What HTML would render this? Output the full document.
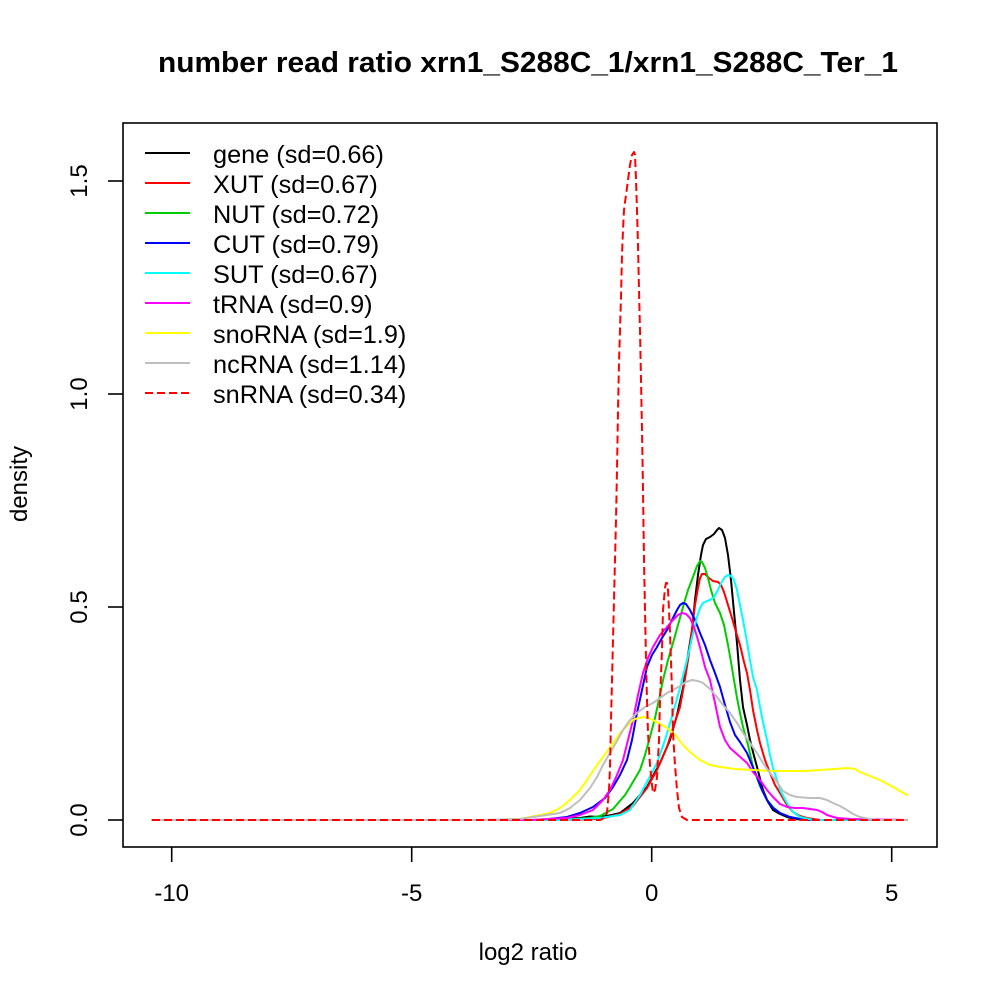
<!DOCTYPE html>
<html>
<head>
<meta charset="utf-8">
<style>
  html, body { margin:0; padding:0; background:#fff; }
  svg { display:block; }
  text { font-family: "Liberation Sans", "DejaVu Sans", sans-serif; fill:#000; }
</style>
</head>
<body>
<svg width="1000" height="1000" viewBox="0 0 1000 1000" xmlns="http://www.w3.org/2000/svg">
  <rect x="0" y="0" width="1000" height="1000" fill="#fff"/>

  <!-- Title -->
  <text x="528" y="72" font-size="28.8" font-weight="bold" text-anchor="middle" textLength="740" lengthAdjust="spacingAndGlyphs">number read ratio xrn1_S288C_1/xrn1_S288C_Ter_1</text>

  <!-- Curves -->
  <g fill="none" stroke-width="2" stroke-linejoin="round" stroke-linecap="round">
    <!-- gene -->
    <polyline stroke="#000000" points="152,820 540,820 560,819 580,818 590,816.5 600,817 612,815 620,813 633,803 647,787 660,763 670,740 677,715 683,688 688,655 692,630 695,600 698,575 701,555 703,545 706,539 710,537 714,534 717,530 719,528 722,530 725,538 728,555 731,580 734,612 737,643 740,680 743,707 747,725 750,740 753,752 757,767 763,790 768,802 773,810 780,814 787,817 795,819 805,820 907,820"/>
    <!-- XUT -->
    <polyline stroke="#FF0000" points="152,820 560,820 600,819 620,814 633,806 647,788 657,770 667,747 674,725 680,707 684,685 688,660 692,630 695,605 698,588 700,578 702,574 705,574 709,578 713,581 718,582 721,585 724,592 728,605 732,618 736,632 740,645 744,662 747,673 750,690 753,710 757,730 760,743 765,760 770,773 775,785 780,793 787,805 793,812 800,816 807,818 820,820 907,820"/>
    <!-- NUT -->
    <polyline stroke="#00CD00" points="152,820 560,820 590,818 600,816 613,809 625,795 630,787 640,770 645,755 650,737 655,718 660,695 663,680 668,660 673,643 678,625 683,607 688,590 693,577 697,566 700,561 702,562 705,568 708,578 711,590 715,603 720,613 724,625 728,645 731,662 734,680 737,698 740,713 743,727 748,745 753,767 760,786 767,800 774,808 780,813 790,817 800,819 815,820 907,820"/>
    <!-- CUT -->
    <polyline stroke="#0000FF" points="152,820 540,820 567,817 580,813 593,807 605,798 613,787 620,775 627,760 632,740 637,713 642,690 647,667 652,655 657,647 662,638 667,630 672,620 677,610 680,605 683,603 686,604 690,610 695,620 700,633 705,645 710,660 715,673 720,687 725,705 730,722 735,735 740,742 747,753 752,765 757,777 762,790 767,800 773,808 780,813 790,817 800,819 815,820 907,820"/>
    <!-- SUT -->
    <polyline stroke="#00FFFF" points="152,820 560,820 600,818 620,815 630,810 640,795 648,780 657,763 665,740 673,713 680,688 687,660 692,638 697,617 700,608 703,603 707,601 710,600 714,597 718,590 721,583 725,577 728,575 731,576 734,580 737,590 740,605 743,620 747,642 750,660 753,677 757,690 760,707 763,722 767,740 770,755 773,768 777,780 780,790 787,803 793,812 800,817 813,820 907,820"/>
    <!-- tRNA -->
    <polyline stroke="#FF00FF" points="152,820 530,820 567,818 580,815 593,810 603,800 610,790 617,775 623,760 628,740 633,720 638,695 643,673 648,658 653,647 660,635 667,627 673,620 678,615 682,613 686,614 690,618 694,627 698,640 702,655 705,667 710,680 715,703 720,727 725,740 730,748 738,755 747,763 753,772 760,780 767,790 773,797 780,804 787,807 795,808 803,808 810,809 817,810 822,812 827,815 837,818 850,819 907,820"/>
    <!-- snoRNA -->
    <polyline stroke="#FFFF00" points="152,820 490,820 520,819 550,813 560,808 570,800 580,790 587,780 595,768 603,757 612,745 620,733 627,726 633,720 638,718 643,717 648,718 653,720 660,724 667,728 673,733 677,737 683,745 690,752 700,760 710,765 720,767 735,769 753,770 770,771 787,771 805,771 820,770 835,769 847,768 855,769 860,772 870,776 880,780 893,787 907,795"/>
    <!-- ncRNA -->
    <polyline stroke="#BEBEBE" points="152,820 480,820 520,819 560,813 570,808 580,800 590,788 597,777 603,765 610,753 617,741 623,730 630,720 637,713 645,707 653,703 660,698 667,693 673,690 680,686 686,682 692,680 698,681 703,683 710,689 717,697 723,705 730,713 737,723 743,733 750,743 757,753 763,763 770,773 777,782 783,791 790,795 797,797 810,798 820,798 827,800 833,803 840,806 847,810 853,814 860,817 870,819 877,820 907,820"/>
    <!-- snRNA -->
    <polyline stroke="#FF0000" stroke-dasharray="8,4" stroke-linecap="butt" points="152,820 600,820 604,818 607,813 609,790 610,767 611,720 612,680 613,640 614,600 615,560 616,520 617,470 618,410 619,363 620,330 621,297 622,255 623,230 624,210 626,195 628,180 630,165 632,155 634,152 635,155 636,180 637,210 638,245 639,290 640,330 641,380 642,430 643,490 644,560 645,610 646,660 647,700 648,733 650,765 652,785 653,793 655,790 657,777 659,740 660,700 662,650 663,610 665,588 666,583 667,583 668,590 669,610 670,633 672,690 673,733 675,765 677,790 679,808 682,817 687,820 907,820"/>
  </g>

  <!-- Plot box -->
  <rect x="123" y="123" width="814" height="724" fill="none" stroke="#000" stroke-width="1.6"/>

  <!-- X axis ticks -->
  <g stroke="#000" stroke-width="1.6">
    <line x1="171.7" y1="847" x2="171.7" y2="862"/>
    <line x1="411.7" y1="847" x2="411.7" y2="862"/>
    <line x1="651.7" y1="847" x2="651.7" y2="862"/>
    <line x1="891.7" y1="847" x2="891.7" y2="862"/>
  </g>
  <g font-size="24" text-anchor="middle">
    <text x="171.7" y="901">-10</text>
    <text x="411.7" y="901">-5</text>
    <text x="651.7" y="901">0</text>
    <text x="891.7" y="901">5</text>
  </g>

  <!-- Y axis ticks -->
  <g stroke="#000" stroke-width="1.6">
    <line x1="108" y1="820" x2="123" y2="820"/>
    <line x1="108" y1="607" x2="123" y2="607"/>
    <line x1="108" y1="394" x2="123" y2="394"/>
    <line x1="108" y1="181" x2="123" y2="181"/>
  </g>
  <g font-size="24" text-anchor="middle">
    <text transform="translate(87,820) rotate(-90)">0.0</text>
    <text transform="translate(87,607) rotate(-90)">0.5</text>
    <text transform="translate(87,394) rotate(-90)">1.0</text>
    <text transform="translate(87,181) rotate(-90)">1.5</text>
  </g>

  <!-- Axis labels -->
  <text x="528" y="960" font-size="24" text-anchor="middle">log2 ratio</text>
  <text transform="translate(27,484) rotate(-90)" font-size="24" text-anchor="middle">density</text>

  <!-- Legend -->
  <g stroke-width="2" fill="none">
    <line x1="145" y1="153" x2="190" y2="153" stroke="#000000"/>
    <line x1="145" y1="183" x2="190" y2="183" stroke="#FF0000"/>
    <line x1="145" y1="213" x2="190" y2="213" stroke="#00CD00"/>
    <line x1="145" y1="243" x2="190" y2="243" stroke="#0000FF"/>
    <line x1="145" y1="273" x2="190" y2="273" stroke="#00FFFF"/>
    <line x1="145" y1="303" x2="190" y2="303" stroke="#FF00FF"/>
    <line x1="145" y1="333" x2="190" y2="333" stroke="#FFFF00"/>
    <line x1="145" y1="363" x2="190" y2="363" stroke="#BEBEBE"/>
    <line x1="145" y1="393" x2="190" y2="393" stroke="#FF0000" stroke-dasharray="8,4"/>
  </g>
  <g font-size="25.3">
    <text x="213" y="163">gene (sd=0.66)</text>
    <text x="213" y="193">XUT (sd=0.67)</text>
    <text x="213" y="223">NUT (sd=0.72)</text>
    <text x="213" y="253">CUT (sd=0.79)</text>
    <text x="213" y="283">SUT (sd=0.67)</text>
    <text x="213" y="313">tRNA (sd=0.9)</text>
    <text x="213" y="343">snoRNA (sd=1.9)</text>
    <text x="213" y="373">ncRNA (sd=1.14)</text>
    <text x="213" y="403">snRNA (sd=0.34)</text>
  </g>
</svg>
</body>
</html>
